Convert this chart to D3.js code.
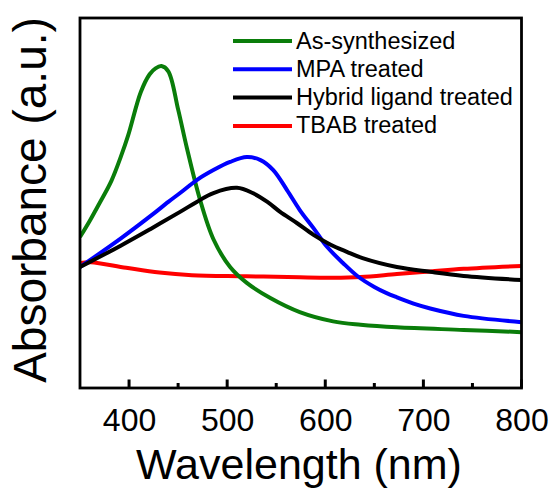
<!DOCTYPE html>
<html>
<head>
<meta charset="utf-8">
<script src="https://cdn.jsdelivr.net/npm/d3@7"></script>
<style>
  html, body { margin: 0; padding: 0; background: #fff; }
  svg { display: block; font-family: "Liberation Sans", Arial, sans-serif; }
</style>
</head>
<body>
<svg id="chart" width="551" height="493"></svg>
<script>
// UV-vis absorption spectra (arbitrary units) of the nanocrystal films
const wavelengthsAs = [350, 360, 370, 382, 392, 399, 412, 421, 427, 433, 440, 450, 459, 472, 486, 503, 520, 544, 574, 608, 636, 673, 741, 800];
const absAs        = [0.408, 0.452, 0.500, 0.560, 0.628, 0.682, 0.800, 0.848, 0.864, 0.870, 0.856, 0.753, 0.648, 0.512, 0.402, 0.327, 0.284, 0.243, 0.205, 0.180, 0.171, 0.164, 0.157, 0.151];

const wavelengthsMPA = [350, 391, 422, 440, 452, 469, 486, 503, 520, 534, 547, 561, 574, 588, 602, 618, 633, 650, 662, 673, 690, 707, 741, 800];
const absMPA         = [0.327, 0.403, 0.465, 0.503, 0.527, 0.562, 0.589, 0.611, 0.624, 0.616, 0.589, 0.535, 0.481, 0.432, 0.381, 0.338, 0.302, 0.273, 0.257, 0.245, 0.228, 0.215, 0.195, 0.178];

const wavelengthsHybrid = [350, 391, 422, 452, 469, 486, 510, 526, 541, 554, 571, 588, 605, 622, 638, 673, 707, 741, 800];
const absHybrid         = [0.327, 0.384, 0.430, 0.476, 0.503, 0.527, 0.541, 0.527, 0.503, 0.476, 0.446, 0.414, 0.388, 0.368, 0.351, 0.327, 0.314, 0.303, 0.292];

const wavelengthsTBAB = [350, 361, 397, 431, 464, 520, 574, 608, 636, 673, 707, 741, 800];
const absTBAB         = [0.338, 0.340, 0.325, 0.312, 0.305, 0.302, 0.299, 0.298, 0.300, 0.308, 0.315, 0.322, 0.330];

const seriesNames  = ["As-synthesized", "MPA treated", "Hybrid ligand treated", "TBAB treated"];
const seriesColors = ["#0a7d0a", "#0000ff", "#000000", "#ff0000"];

const majorTicks = [400, 500, 600, 700, 800];
const minorTicks = [450, 550, 650, 750];

const series = [
  { name: seriesNames[0], color: seriesColors[0], x: wavelengthsAs,     y: absAs },
  { name: seriesNames[1], color: seriesColors[1], x: wavelengthsMPA,    y: absMPA },
  { name: seriesNames[2], color: seriesColors[2], x: wavelengthsHybrid, y: absHybrid },
  { name: seriesNames[3], color: seriesColors[3], x: wavelengthsTBAB,   y: absTBAB }
];

const svg = d3.select("#chart");
const plotLeft = 80, plotRight = 521.5, plotTop = 18, plotBottom = 388;

const x = d3.scaleLinear().domain([350, 800]).range([plotLeft, plotRight]);
const y = d3.scaleLinear().domain([0, 1]).range([plotBottom, plotTop]);

svg.append("defs").append("clipPath").attr("id", "plotClip")
  .append("rect").attr("x", plotLeft).attr("y", plotTop)
  .attr("width", plotRight - plotLeft).attr("height", plotBottom - plotTop);

const line = d3.line()
  .x(d => x(d[0]))
  .y(d => y(d[1]))
  .curve(d3.curveCatmullRom.alpha(0.5));

const curves = svg.append("g").attr("clip-path", "url(#plotClip)");
// TBAB goes underneath the other spectra
[3, 0, 1, 2].forEach(i => {
  const s = series[i];
  curves.append("path")
    .datum(s.x.map((w, k) => [w, s.y[k]]))
    .attr("fill", "none")
    .attr("stroke", s.color)
    .attr("stroke-width", 4)
    .attr("stroke-linejoin", "round")
    .attr("d", line);
});

// bottom axis labels
const xAxis = d3.axisBottom(x).tickValues(majorTicks).tickSize(0).tickPadding(20);
const gx = svg.append("g").attr("transform", `translate(0,${plotBottom})`).call(xAxis);
gx.select(".domain").remove();
gx.selectAll(".tick line").remove();
gx.selectAll(".tick text")
  .attr("font-size", 32)
  .attr("fill", "#000")
  .attr("font-family", "'Liberation Sans', Arial, sans-serif");

// inward-pointing major and minor ticks on the bottom edge
svg.append("g").selectAll("line.major").data(majorTicks).join("line")
  .attr("x1", d => x(d)).attr("x2", d => x(d))
  .attr("y1", plotBottom).attr("y2", plotBottom - 8.5)
  .attr("stroke", "#000").attr("stroke-width", 3);
svg.append("g").selectAll("line.minor").data(minorTicks).join("line")
  .attr("x1", d => x(d)).attr("x2", d => x(d))
  .attr("y1", plotBottom).attr("y2", plotBottom - 5)
  .attr("stroke", "#000").attr("stroke-width", 3);

// plot frame
svg.append("rect")
  .attr("x", plotLeft).attr("y", plotTop)
  .attr("width", plotRight - plotLeft).attr("height", plotBottom - plotTop)
  .attr("fill", "none").attr("stroke", "#000").attr("stroke-width", 2.8);

// axis titles
svg.append("text")
  .attr("x", 299)
  .attr("y", 479)
  .attr("text-anchor", "middle")
  .attr("font-size", 43)
  .attr("fill", "#000")
  .text("Wavelength (nm)");

svg.append("text")
  .attr("transform", "translate(46,200) rotate(-90)")
  .attr("text-anchor", "middle")
  .attr("font-size", 46)
  .attr("fill", "#000")
  .text("Absorbance (a.u.)");

// legend
const legend = svg.append("g");
series.forEach((s, i) => {
  const baseY = 48.5 + i * 28.3;
  legend.append("line")
    .attr("x1", 233).attr("x2", 292)
    .attr("y1", baseY - 7.5).attr("y2", baseY - 7.5)
    .attr("stroke", s.color).attr("stroke-width", 4);
  legend.append("text")
    .attr("x", 296).attr("y", baseY)
    .attr("font-size", 23.5)
    .attr("fill", "#000")
    .text(s.name);
});
</script>
</body>
</html>
